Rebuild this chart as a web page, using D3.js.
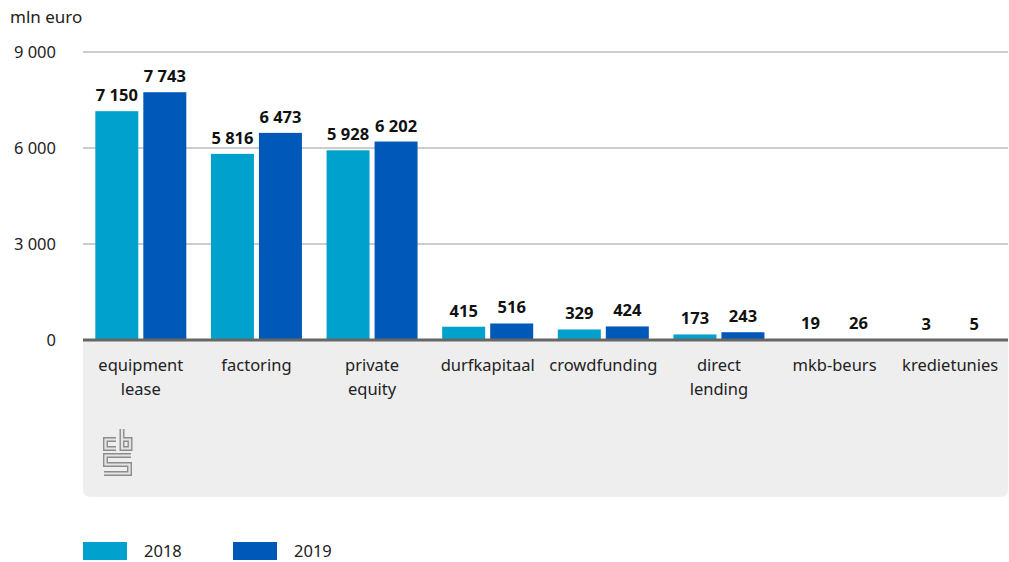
<!DOCTYPE html>
<html>
<head>
<meta charset="utf-8">
<script src="https://cdn.jsdelivr.net/npm/d3@7"></script>
<style>
  body { margin: 0; background: #fff; }
  svg text { font-family: "Noto Sans", "Open Sans", sans-serif; }
</style>
</head>
<body>
<div id="viz"></div>
<script>
// chart data
var categories = ["equipment lease", "factoring", "private equity", "durfkapitaal",
                  "crowdfunding", "direct lending", "mkb-beurs", "kredietunies"];
var labelLines = [["equipment", "lease"], ["factoring"], ["private", "equity"], ["durfkapitaal"],
                  ["crowdfunding"], ["direct", "lending"], ["mkb-beurs"], ["kredietunies"]];
var values2018 = [7150, 5816, 5928, 415, 329, 173, 19, 3];
var values2019 = [7743, 6473, 6202, 516, 424, 243, 26, 5];
var seriesNames = ["2018", "2019"];
var yTicks = [0, 3000, 6000, 9000];

var colors = ["#00a1cd", "#0058b8"];
var fmt = function(v) { return d3.format(",")(v).replace(/,/g, " "); };

var W = 1009, H = 562;
var plotLeft = 83, plotRight = 1008, plotTop = 52, base = 340;

var svg = d3.select("#viz").append("svg")
    .attr("width", W)
    .attr("height", H);

// grey panel under the axis
svg.append("path")
    .attr("d", "M" + plotLeft + "," + base + " H" + plotRight + " V489 q0,8 -8,8 H" + (plotLeft + 8) + " q-8,0 -8,-8 Z")
    .attr("fill", "#eeeeee");

var x = d3.scaleBand()
    .domain(categories)
    .range([plotLeft, plotRight]);

var y = d3.scaleLinear()
    .domain([0, 9000])
    .range([base, plotTop]);

// gridlines
svg.append("g")
    .selectAll("line")
    .data(yTicks.filter(function(d) { return d > 0; }))
    .enter()
    .append("line")
    .attr("x1", plotLeft)
    .attr("x2", plotRight)
    .attr("y1", function(d) { return y(d); })
    .attr("y2", function(d) { return y(d); })
    .attr("stroke", "#9a9a9a")
    .attr("stroke-width", 1);

// tick labels
svg.append("g")
    .selectAll("text")
    .data(yTicks)
    .enter()
    .append("text")
    .attr("x", 56)
    .attr("y", function(d) { return y(d) + 6; })
    .attr("text-anchor", "end")
    .attr("font-size", "16.5px")
    .attr("fill", "#222")
    .text(fmt);

svg.append("text")
    .attr("x", 10)
    .attr("y", 23)
    .attr("font-size", "17px")
    .attr("fill", "#222")
    .text("mln euro");

// bars
var barW = 43, gap = 5;
var series = [values2018, values2019];

series.forEach(function(vals, s) {
    var g = svg.append("g");
    var xPos = function(d, i) {
        var c = x(categories[i]) + x.bandwidth() / 2;
        return s == 0 ? c - gap / 2 - barW : c + gap / 2;
    };
    g.selectAll("rect")
        .data(vals)
        .enter()
        .append("rect")
        .attr("x", xPos)
        .attr("y", function(d) { return y(d); })
        .attr("width", barW)
        .attr("height", function(d) { return base - y(d); })
        .attr("fill", colors[s]);

    g.selectAll("text")
        .data(vals)
        .enter()
        .append("text")
        .attr("x", function(d, i) { return xPos(d, i) + barW / 2; })
        .attr("y", function(d) { return y(d) - 10; })
        .attr("text-anchor", "middle")
        .attr("font-size", "16.5px")
        .attr("font-weight", "bold")
        .attr("fill", "#111")
        .text(fmt);
});

// baseline
svg.append("line")
    .attr("x1", plotLeft)
    .attr("x2", plotRight)
    .attr("y1", base)
    .attr("y2", base)
    .attr("stroke", "#666")
    .attr("stroke-width", 3);

// category labels
var catText = svg.append("g")
    .selectAll("text")
    .data(categories)
    .enter()
    .append("text")
    .attr("x", function(d) { return x(d) + x.bandwidth() / 2; })
    .attr("y", 371)
    .attr("text-anchor", "middle")
    .attr("font-size", "16.5px")
    .attr("fill", "#222");

catText.selectAll("tspan")
    .data(function(d, i) { return labelLines[i]; })
    .enter()
    .append("tspan")
    .attr("x", function() { return d3.select(this.parentNode).attr("x"); })
    .attr("dy", function(d, i) { return i == 0 ? 0 : 24; })
    .text(function(d) { return d; });

// cbs logo: thick grey strokes with a light core, so they read as outlines
var logoPaths = [
    "M116,439.5 H105.5 V448.5 H116",
    "M122,429 V448.5 H130 V439.5 H122",
    "M131,455.5 H105.5 V464.5 H129.5 V473.5 H104"
];
var logo = svg.append("g").attr("fill", "none").attr("stroke-linejoin", "miter");
logo.selectAll("path.outer")
    .data(logoPaths)
    .enter()
    .append("path")
    .attr("d", function(d) { return d; })
    .attr("stroke", "#8c8c8c")
    .attr("stroke-width", 5);
logo.selectAll("path.inner")
    .data(logoPaths)
    .enter()
    .append("path")
    .attr("d", function(d) { return d; })
    .attr("stroke", "#e4e4e4")
    .attr("stroke-width", 2.2);

// legend
seriesNames.forEach(function(name, i) {
    var lx = 83 + i * 150;
    svg.append("rect")
        .attr("x", lx)
        .attr("y", 542)
        .attr("width", 44)
        .attr("height", 18)
        .attr("fill", colors[i]);
    svg.append("text")
        .attr("x", lx + 61)
        .attr("y", 557)
        .attr("font-size", "16.5px")
        .attr("fill", "#222")
        .text(name);
});
</script>
</body>
</html>
